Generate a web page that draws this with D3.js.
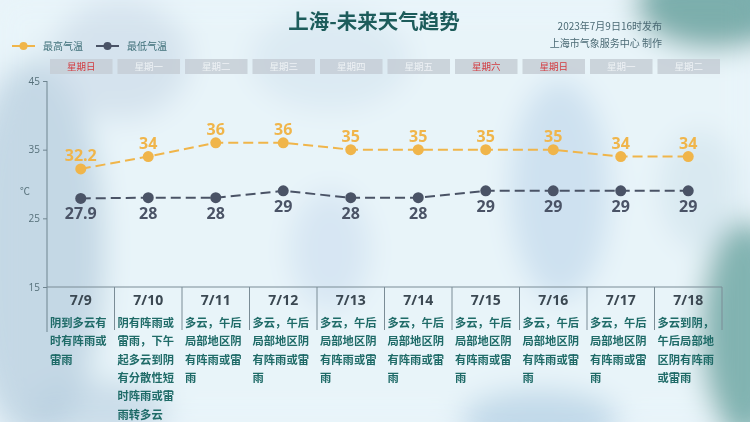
<!DOCTYPE html>
<html lang="zh">
<head>
<meta charset="UTF-8">
<title>上海-未来天气趋势</title>
<script src="https://cdn.jsdelivr.net/npm/d3@7"></script>
<style>
  html, body { margin: 0; padding: 0; background: #e9f4fa; }
  svg { display: block; font-family: "Noto Sans CJK SC", "Noto Sans", sans-serif; }
</style>
</head>
<body>
<svg width="750" height="422" viewBox="0 0 750 422"></svg>
<script>
    // data
    const dates = ["7/9","7/10","7/11","7/12","7/13","7/14","7/15","7/16","7/17","7/18"]
    const weekdays = ["星期日","星期一","星期二","星期三","星期四","星期五","星期六","星期日","星期一","星期二"]
    const highTemps = [32.2, 34, 36, 36, 35, 35, 35, 35, 34, 34]
    const lowTemps = [27.9, 28, 28, 29, 28, 28, 29, 29, 29, 29]
    const weather = [
        "阴到多云有时有阵雨或雷雨",
        "阴有阵雨或雷雨，下午起多云到阴有分散性短时阵雨或雷雨转多云",
        "多云，午后局部地区阴有阵雨或雷雨",
        "多云，午后局部地区阴有阵雨或雷雨",
        "多云，午后局部地区阴有阵雨或雷雨",
        "多云，午后局部地区阴有阵雨或雷雨",
        "多云，午后局部地区阴有阵雨或雷雨",
        "多云，午后局部地区阴有阵雨或雷雨",
        "多云，午后局部地区阴有阵雨或雷雨",
        "多云到阴，午后局部地区阴有阵雨或雷雨"
    ]
    const yTicks = [15, 25, 35, 45]

    const highColor = "#f0b54a"
    const lowColor = "#4a5366"
    const textTeal = "#1f6b68"

    const svg = d3.select("svg")
    const defs = svg.append("defs")
    defs.append("filter").attr("id", "blur")
        .attr("x", "-50%").attr("y", "-50%").attr("width", "200%").attr("height", "200%")
        .append("feGaussianBlur").attr("stdDeviation", 14)

    // watercolour-ish background blobs
    const bg = svg.append("g").attr("filter", "url(#blur)")
    bg.append("rect").attr("width", 750).attr("height", 422).attr("fill", "#e8f4f9")
    const blobs = [
        [35, 250, 70, 190, "#bdd2e2", 0.85],
        [120, 60, 70, 60, "#cddcea", 0.7],
        [330, 60, 80, 50, "#d4e3ee", 0.6],
        [330, 250, 40, 60, "#cbdcee", 0.6],
        [560, 190, 50, 110, "#bdd4ea", 0.6],
        [715, 5, 80, 45, "#5f9c99", 0.8],
        [745, 330, 45, 110, "#6fa7a5", 0.85],
        [540, 420, 80, 30, "#b0cde2", 0.7],
        [100, 410, 70, 30, "#b5cddd", 0.6],
        [700, 190, 40, 60, "#cfe1eb", 0.6]
    ]
    bg.selectAll("ellipse.blob").data(blobs).join("ellipse")
        .attr("class", "blob")
        .attr("cx", d => d[0]).attr("cy", d => d[1])
        .attr("rx", d => d[2]).attr("ry", d => d[3])
        .attr("fill", d => d[4]).attr("opacity", d => d[5])

    const left = 47, right = 722
    const x = d3.scaleBand().domain(dates).range([left, right])
    const y = d3.scaleLinear().domain([15, 45]).range([287, 81])
    const cx = d => x(d) + x.bandwidth() / 2

    // title block
    svg.append("text").attr("x", 374).attr("y", 29).attr("text-anchor", "middle")
        .attr("font-size", 20.5).attr("font-weight", "bold").attr("fill", "#1d5c5b")
        .text("上海-未来天气趋势")
    svg.append("text").attr("x", 662).attr("y", 30).attr("text-anchor", "end")
        .attr("font-size", 10).attr("fill", "#4b6a74").text("2023年7月9日16时发布")
    svg.append("text").attr("x", 662).attr("y", 47).attr("text-anchor", "end")
        .attr("font-size", 10).attr("fill", "#4b6a74").text("上海市气象服务中心 制作")

    // legend
    const legend = [["最高气温", highColor, 12], ["最低气温", lowColor, 96]]
    const lg = svg.append("g").selectAll("g").data(legend).join("g")
        .attr("transform", d => `translate(${d[2]},46)`)
    lg.append("line").attr("x1", 0).attr("x2", 23).attr("stroke", d => d[1]).attr("stroke-width", 2)
    lg.append("circle").attr("cx", 11.5).attr("r", 4).attr("fill", d => d[1])
    lg.append("text").attr("x", 31).attr("y", 4).attr("font-size", 10)
        .attr("fill", "#3e6f78").text(d => d[0])

    // weekday boxes
    const wk = svg.append("g").selectAll("g").data(weekdays).join("g")
        .attr("transform", (d, i) => `translate(${x(dates[i]) + 3},59)`)
    wk.append("rect").attr("width", x.bandwidth() - 5).attr("height", 15)
        .attr("fill", "#c5ced6").attr("opacity", 0.85)
    wk.append("text").attr("x", (x.bandwidth() - 5) / 2).attr("y", 11)
        .attr("text-anchor", "middle").attr("font-size", 9.5)
        .attr("fill", d => (d === "星期日" || d === "星期六") ? "#d23a3f" : "#eef2f5")
        .text(d => d)

    // y axis
    const yAxis = svg.append("g").attr("transform", `translate(${left},0)`)
        .call(d3.axisLeft(y).tickValues(yTicks).tickSize(4).tickPadding(3))
    yAxis.select(".domain").remove()
    yAxis.selectAll("line").attr("stroke", "#6f8590")
    yAxis.selectAll("text").attr("font-size", 10).attr("fill", "#56707a")
        .attr("font-family", "'Open Sans', 'Noto Sans', sans-serif")
    svg.append("line").attr("x1", left).attr("x2", left).attr("y1", 81).attr("y2", 332)
        .attr("stroke", "#6f8590").attr("stroke-width", 1)
    svg.append("text").attr("x", 20).attr("y", 195).attr("font-size", 10)
        .attr("fill", "#56707a").text("℃")

    // table grid
    svg.append("line").attr("x1", left).attr("x2", right).attr("y1", y(15)).attr("y2", y(15))
        .attr("stroke", "#7a8c96").attr("stroke-width", 1)
    svg.append("g").selectAll("line").data(dates.slice(1).concat(["end"])).join("line")
        .attr("x1", d => d === "end" ? right : x(d)).attr("x2", d => d === "end" ? right : x(d))
        .attr("y1", y(15)).attr("y2", 330)
        .attr("stroke", "#7a8c96").attr("stroke-width", 1)

    // series lines
    const series = [[highTemps, highColor, -8], [lowTemps, lowColor, 21]]
    series.forEach(([vals, color, off]) => {
        const line = d3.line().x((d, i) => cx(dates[i])).y(d => y(d))
        svg.append("path").datum(vals).attr("d", line)
            .attr("fill", "none").attr("stroke", color).attr("stroke-width", 2)
            .attr("stroke-dasharray", "10,5")
        svg.append("g").selectAll("circle").data(vals).join("circle")
            .attr("cx", (d, i) => cx(dates[i])).attr("cy", d => y(d)).attr("r", 5.5)
            .attr("fill", color)
        svg.append("g").selectAll("text").data(vals).join("text")
            .attr("x", (d, i) => cx(dates[i])).attr("y", d => y(d) + off)
            .attr("text-anchor", "middle").attr("font-size", 16).attr("font-weight", "bold")
            .attr("font-family", "'Open Sans', 'Noto Sans', sans-serif")
            .attr("fill", color).text(d => d)
    })

    // dates + weather descriptions
    const cols = svg.append("g").selectAll("g").data(dates).join("g")
    cols.append("text").attr("x", d => cx(d)).attr("y", 305)
        .attr("text-anchor", "middle").attr("font-size", 14).attr("font-weight", "bold")
        .attr("font-family", "'Open Sans', 'Noto Sans', sans-serif")
        .attr("fill", "#3b4852").text(d => d)
    cols.each(function (d, i) {
        const chars = Array.from(weather[i])
        const lines = []
        for (let k = 0; k < chars.length; k += 5) lines.push(chars.slice(k, k + 5).join(""))
        d3.select(this).selectAll("text.w").data(lines).join("text")
            .attr("class", "w")
            .attr("x", x(d) + 3).attr("y", (t, j) => 327 + j * 18.3)
            .attr("font-size", 11.3).attr("font-weight", "bold")
            .attr("fill", textTeal).text(t => t)
    })
</script>
</body>
</html>
